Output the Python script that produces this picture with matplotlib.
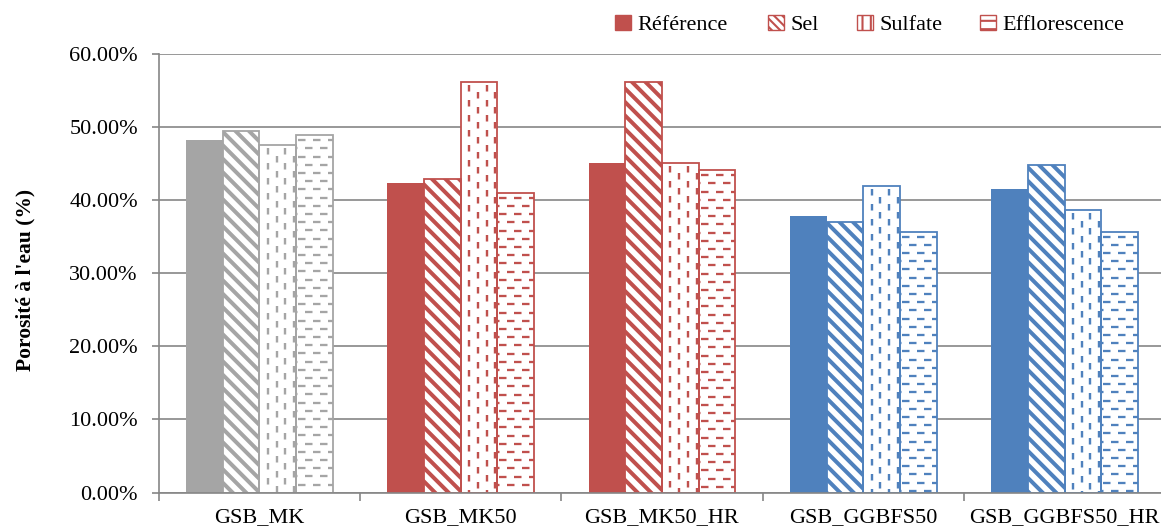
import matplotlib
matplotlib.use('Agg')
import matplotlib.pyplot as plt
from matplotlib.patches import Patch
from matplotlib.lines import Line2D
from matplotlib.transforms import IdentityTransform
import numpy as np

# porosity data (%)
categories = ['GSB_MK', 'GSB_MK50', 'GSB_MK50_HR', 'GSB_GGBFS50', 'GSB_GGBFS50_HR']
series_names = ['Référence', 'Sel', 'Sulfate', 'Efflorescence']
reference = [48.2, 42.4, 45.1, 37.8, 41.5]
sel = [49.4, 42.9, 56.2, 37.0, 44.8]
sulfate = [47.5, 56.2, 45.1, 41.9, 38.6]
efflorescence = [48.9, 41.0, 44.1, 35.7, 35.7]
y_ticks = [0, 10, 20, 30, 40, 50, 60]

group_colors = ['#A5A5A5', '#C0504D', '#C0504D', '#4F81BD', '#4F81BD']
patterns = ['solid', 'diag', 'vdash', 'hdash']

plt.rcParams['font.family'] = ['Liberation Serif', 'DejaVu Serif']
plt.rcParams['lines.scale_dashes'] = False

DPI = 100
fig = plt.figure(figsize=(11.61, 5.30), dpi=DPI)
# axes spans from x=158.7px to ~1165px, y=54px to 492.5px
ax = fig.add_axes([158.7 / 1161, 1 - 492.5 / 530, 1006.5 / 1161, 438.5 / 530])

x = np.arange(len(categories))
width = 0.182
all_values = [reference, sel, sulfate, efflorescence]
offsets = [-1.5, -0.5, 0.5, 1.5]

bars_by_series = []
for vals, off, pat in zip(all_values, offsets, patterns):
    if pat == 'solid':
        b = ax.bar(x + off * width, vals, width, color=group_colors, zorder=2)
    else:
        b = ax.bar(x + off * width, vals, width, color='white', zorder=2)
    bars_by_series.append(b)

ax.set_xlim(-0.5, len(categories) - 0.5)
ax.set_ylim(0, 60)
ax.set_yticks(y_ticks)
ax.set_yticklabels(['%.2f%%' % v for v in y_ticks], fontsize=16)
ax.set_xticks(x)
ax.set_xticklabels(categories, fontsize=16)
ax.set_xticks(np.arange(-0.5, len(categories), 1.0), minor=True)
ax.tick_params(axis='x', which='major', length=0, pad=11)
ax.tick_params(axis='x', which='minor', length=6, width=1.2, color='#868686', direction='out')
ax.tick_params(axis='y', length=5, width=1.2, color='#868686', direction='out', pad=10)
ax.grid(axis='y', color='#868686', linewidth=1.2, zorder=0)
ax.set_axisbelow(True)
for s in ['top', 'right']:
    ax.spines[s].set_visible(False)
for s in ['left', 'bottom']:
    ax.spines[s].set_color('#868686')
    ax.spines[s].set_linewidth(1.2)

fig.text(25 / 1161, 1 - 280 / 530, "Porosité à l'eau (%)", rotation=90,
         ha='center', va='center', fontsize=15.5, fontweight='bold')

# draw the Excel-like fill patterns, clipped inside each bar
fig.canvas.draw()
px = 72.0 / DPI  # pixels -> points


def add_clipped(xs, ys, color, lw, bar, ls='-'):
    ln = Line2D(xs, ys, transform=IdentityTransform(), color=color,
                linewidth=lw, linestyle=ls, zorder=2.1)
    ax.add_artist(ln)
    ln.set_clip_path(bar)


for bars, pat in zip(bars_by_series, patterns):
    if pat == 'solid':
        continue
    for bar, col in zip(bars, group_colors):
        bb = bar.get_window_extent()
        x0, x1, y0, y1 = bb.x0, bb.x1, bb.y0, bb.y1
        if pat == 'diag':
            step = 13.5
            c = np.floor((x0 + y0) / step) * step
            while c < x1 + y1 + step:
                # line y = -x + c
                add_clipped([x0 - 5, x1 + 5], [c - x0 + 5, c - x1 - 5], col, 4.0 * px, bar)
                c += step
        elif pat == 'vdash':
            k = 0
            xc = x0 + 8.5
            while xc < x1 + 1:
                off = 0 if k % 2 == 0 else 7.5
                add_clipped([xc, xc], [y1 - 3 - off, y0 - 20], col, 2.4 * px, bar,
                            ls=(0, (6.5 * px, 8.5 * px)))
                xc += 8.7
                k += 1
        elif pat == 'hdash':
            k = 0
            yc = y1 - 5
            while yc > y0:
                off = 0 if k % 2 == 0 else 7.5
                add_clipped([x0 - 13 + off, x1 + 20], [yc, yc], col, 2.3 * px, bar,
                            ls=(0, (7.5 * px, 7.5 * px)))
                yc -= 8.2
                k += 1
        # outline on top
        r = plt.Rectangle((bar.get_x(), 0), bar.get_width(), bar.get_height(),
                          fill=False, edgecolor=col, linewidth=1.3, zorder=2.3)
        ax.add_patch(r)

legend_red = '#C0504D'
plt.rcParams['hatch.linewidth'] = 2.5
h_sel = Patch(facecolor='white', edgecolor=legend_red, hatch='\\\\\\\\')
plt.rcParams['hatch.linewidth'] = 1.5
handles = [
    Patch(facecolor=legend_red, edgecolor=legend_red),
    h_sel,
    Patch(facecolor='white', edgecolor=legend_red, hatch='||'),
    Patch(facecolor='white', edgecolor=legend_red, hatch='--'),
]
# one legend per entry, placed where Excel put them
legend_x = [615, 768, 857, 980]
for h, name, lx in zip(handles, series_names, legend_x):
    leg = fig.legend([h], [name], loc='center left', bbox_to_anchor=(lx / 1161, 1 - 25 / 530),
                     frameon=False, fontsize=16, handlelength=0.7, handleheight=0.7,
                     handletextpad=0.3, borderaxespad=0, borderpad=0)

fig.savefig('out.png', dpi=DPI)
